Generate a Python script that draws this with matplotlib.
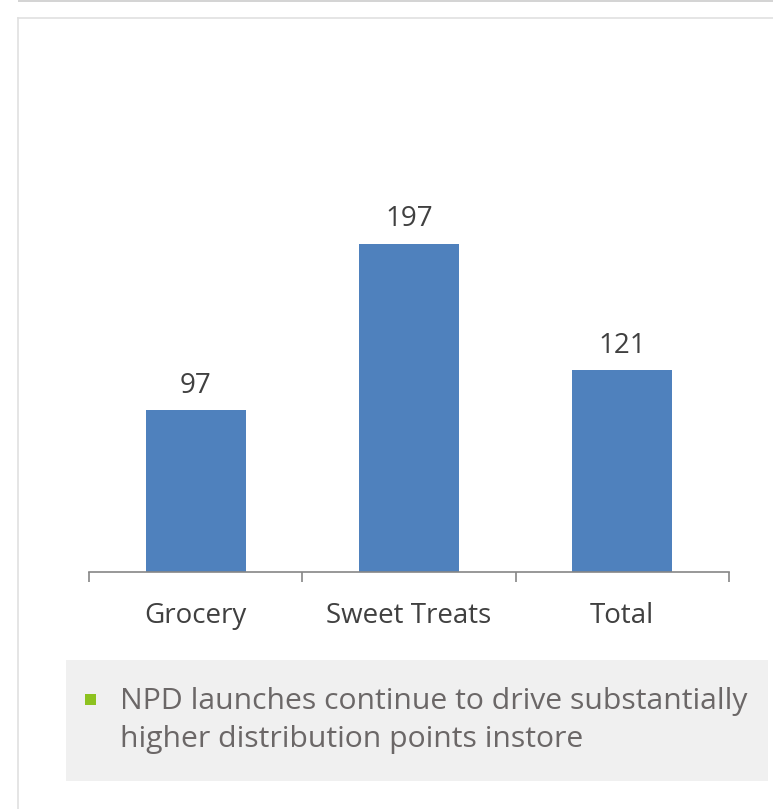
import matplotlib.pyplot as plt
from matplotlib.patches import Rectangle
from matplotlib.lines import Line2D

categories = ['Grocery', 'Sweet Treats', 'Total']
values = [97, 197, 121]
note_lines = ['NPD launches continue to drive substantially',
              'higher distribution points instore']

W, H = 773, 809
plt.rcParams['font.family'] = ['Open Sans', 'DejaVu Sans']

fig = plt.figure(figsize=(W / 100, H / 100), dpi=100)
fig.patch.set_facecolor('white')

# page frame lines
fig.add_artist(Rectangle((18 / W, 1 - 2 / H), 1, 2 / H, transform=fig.transFigure,
                         facecolor='#d4d4d4', edgecolor='none'))
fig.add_artist(Line2D([18 / W, 1], [1 - 18 / H, 1 - 18 / H], transform=fig.transFigure,
                      color='#e0e0e0', lw=1.2))
fig.add_artist(Line2D([18 / W, 18 / W], [0, 1 - 18 / H], transform=fig.transFigure,
                      color='#e0e0e0', lw=1.2))

# bar chart
ax = fig.add_axes([89 / W, (H - 572) / H, 640 / W, 500 / H])
x = range(len(categories))
bars = ax.bar(x, values, width=0.47, color='#4f81bd', zorder=2)
for b, v in zip(bars, values):
    ax.annotate(str(v), (b.get_x() + b.get_width() / 2, v), xytext=(0, 17.5),
                textcoords='offset points', ha='center', va='center',
                fontsize=20, color='#404040')

ax.set_xlim(-0.5, 2.5)
ax.set_ylim(0, 300)
for s in ['top', 'right', 'left']:
    ax.spines[s].set_visible(False)
ax.spines['bottom'].set_color('#868686')
ax.spines['bottom'].set_linewidth(1.2)
ax.set_yticks([])
ax.set_xticks([-0.5, 0.5, 1.5, 2.5])
ax.set_xticklabels([])
ax.tick_params(axis='x', length=7, width=1.2, color='#868686')
ax.set_xticks(list(x), minor=True)
ax.set_xticklabels(categories, minor=True, fontsize=20, color='#404040')
ax.tick_params(axis='x', which='minor', length=0, pad=21.5)

# note box
fig.add_artist(Rectangle((66 / W, (H - 781) / H), (768 - 66) / W, (781 - 660) / H,
                         transform=fig.transFigure, facecolor='#f0f0f0', edgecolor='none'))
fig.add_artist(Rectangle((85 / W, (H - 705) / H), 11 / W, 11 / H,
                         transform=fig.transFigure, facecolor='#8dc21f', edgecolor='none'))
fig.text(120 / W, (H - 702) / H, note_lines[0], fontsize=21.7, color='#6b6767', va='center')
fig.text(120 / W, (H - 740) / H, note_lines[1], fontsize=21.7, color='#6b6767', va='center')

fig.savefig('out.png', dpi=100)
